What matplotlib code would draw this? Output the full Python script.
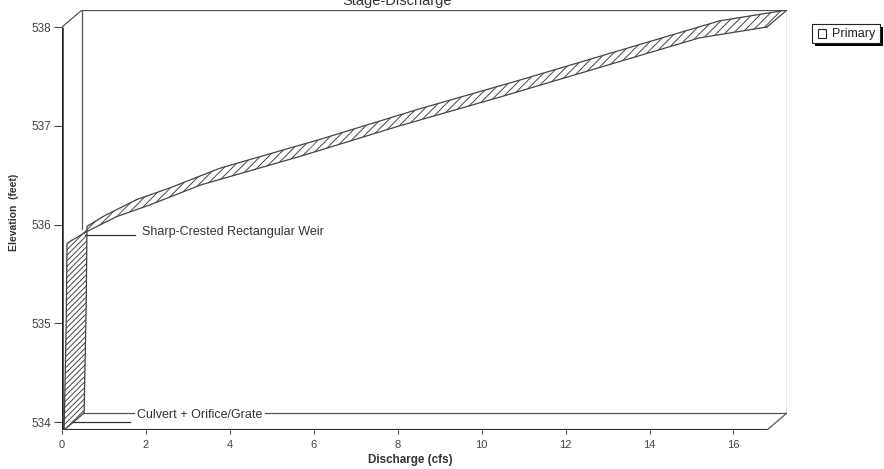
import matplotlib
matplotlib.use("Agg")
from matplotlib import pyplot as plt
from matplotlib.patches import Polygon, Rectangle
import numpy as np

plt.rcParams['font.family'] = ['Liberation Sans', 'DejaVu Sans']
plt.rcParams['hatch.linewidth'] = 0.7

# stage-discharge curve, front edge of the 3d ribbon
discharge = [0.05, 0.10, 0.12, 0.55, 1.3, 2.1, 3.3, 5.67, 8.05, 10.43, 12.81, 15.19, 16.8]
elevation = [533.92, 535.0, 535.81, 535.92, 536.08, 536.2, 536.4, 536.69, 537.0, 537.29, 537.59, 537.89, 538.0]

xticks = [0, 2, 4, 6, 8, 10, 12, 14, 16]
yticks = [534, 535, 536, 537, 538]

x_max = 16.8
y_min, y_max = 533.92, 538.0
# depth of the fake 3d box (data units)
dx, dy = 20 / 42.0, 17 / 98.75

W, H = 884, 469
fig = plt.figure(figsize=(W / 100, H / 100), dpi=100)
ax = fig.add_axes([62 / W, 1 - 430 / H, 725 / W, 420 / H])
ax.set_xlim(0, x_max + dx)
ax.set_ylim(y_min, y_max + dy)
for s in ax.spines.values():
    s.set_visible(False)

edge = '#444444'
thin = dict(color='#555555', lw=0.9, zorder=1)
# back wall and floor
ax.plot([dx, dx, x_max + dx, x_max + dx], [y_min + dy, y_max + dy, y_max + dy, y_min + dy], **thin)
ax.plot([0, dx], [y_max, y_max + dy], **thin)
ax.plot([dx, x_max + dx], [y_min + dy, y_min + dy], **thin)
ax.plot([0, dx], [y_min, y_min + dy], **thin)
ax.plot([x_max, x_max + dx], [y_min, y_min + dy], **thin)
# front axes
ax.plot([0, 0], [y_min, y_max], color='#222222', lw=1.8, zorder=4, solid_capstyle='butt')
ax.plot([0, x_max], [y_min, y_min], color='#333333', lw=1.6, zorder=4, solid_capstyle='butt')

# ribbon
q = np.array(discharge)
e = np.array(elevation)
for i in range(len(q) - 1):
    pts = [(q[i], e[i]), (q[i + 1], e[i + 1]), (q[i + 1] + dx, e[i + 1] + dy), (q[i] + dx, e[i] + dy)]
    hatch = '//////' if i < 2 else '////'
    ax.add_patch(Polygon(pts, closed=True, facecolor='white', edgecolor='#444444',
                         lw=0, hatch=hatch, zorder=2))
ax.plot(q, e, color=edge, lw=0.9, zorder=3)
ax.plot(q + dx, e + dy, color=edge, lw=0.9, zorder=3)
ax.plot([q[0], q[0] + dx], [e[0], e[0] + dy], color=edge, lw=0.9, zorder=3)
ax.plot([q[-1], q[-1] + dx], [e[-1], e[-1] + dy], color=edge, lw=0.9, zorder=3)

# annotations
ax.plot([0.55, 1.74], [535.89, 535.89], color='#333333', lw=0.9, zorder=3)
ax.text(1.9, 535.92, 'Sharp-Crested Rectangular Weir', fontsize=9, color='#333333',
        va='center', ha='left', zorder=5)
ax.plot([0.25, 1.62], [534.0, 534.0], color='#333333', lw=0.9, zorder=3)
ax.text(1.79, 534.07, 'Culvert + Orifice/Grate', fontsize=9, color='#333333', va='center', ha='left',
        zorder=5, bbox=dict(facecolor='white', edgecolor='none', pad=1.5))

ax.set_xticks(xticks)
ax.set_yticks(yticks)
ax.tick_params(axis='x', length=3, pad=4, labelsize=8, colors='#444444')
ax.tick_params(axis='y', length=6, pad=2, labelsize=8.5, colors='#444444')

fig.text(14 / W, 1 - 212 / H, 'Elevation  (feet)', rotation=90, fontsize=7.5, fontweight='bold',
         color='#333333', ha='center', va='center')
fig.text(410 / W, 1 - 460 / H, 'Discharge (cfs)', fontsize=8.4, fontweight='bold',
         color='#333333', ha='center', va='center')
fig.text(397 / W, 1 - 5 / H, 'Stage-Discharge', fontsize=10.5, color='#333333', ha='center', va='baseline')

# legend box with hard shadow
fig.patches.append(Rectangle((815 / W, 1 - 46 / H), 68 / W, 19 / H, transform=fig.transFigure,
                             facecolor='black', edgecolor='none'))
fig.patches.append(Rectangle((812 / W, 1 - 43 / H), 68 / W, 19 / H, transform=fig.transFigure,
                             facecolor='white', edgecolor='#222222', lw=0.8))
fig.patches.append(Rectangle((818 / W, 1 - 38 / H), 8 / W, 9 / H, transform=fig.transFigure,
                             facecolor='white', edgecolor='#222222', lw=0.8))
fig.text(832 / W, 1 - 34 / H, 'Primary', fontsize=9, color='#222222', ha='left', va='center')

fig.savefig('out.png', dpi=100)
